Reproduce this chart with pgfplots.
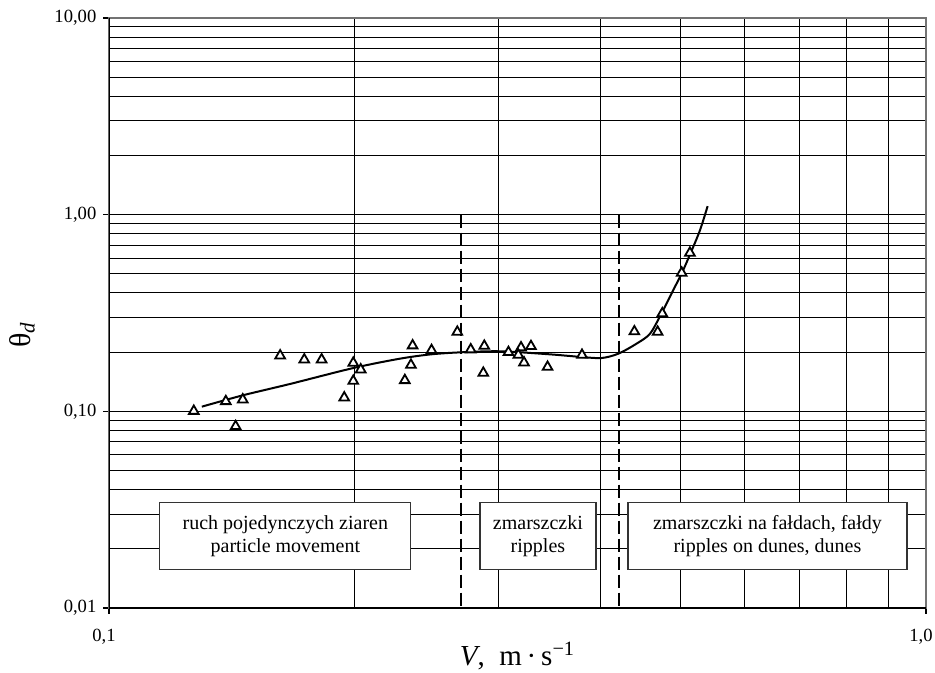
\documentclass[border=0pt]{standalone}
\usepackage{fontspec}
\setmainfont{Liberation Serif}
\usepackage{pgfplots}
\pgfplotsset{compat=1.18}
\begin{document}
\begin{tikzpicture}[x=1pt,y=1pt]
\path[use as bounding box] (0,0) rectangle (467.5,336.5);
\begin{axis}[
  at={(54.5pt,32.5pt)}, anchor=south west,
  scale only axis, width=408.5pt, height=295pt,
  xmode=log, ymode=log,
  xmin=0.1, xmax=1, ymin=0.01, ymax=10,
  xtick={0.1,1}, xticklabels={{0,1},{1,0}},
  ytick={0.01,0.1,1,10}, yticklabels={{0,01},{0,10},{1,00},{10,00}},
  minor xtick={0.2,0.3,0.4,0.5,0.6,0.7,0.8,0.9},
  minor ytick={0.02,0.03,0.04,0.05,0.06,0.07,0.08,0.09,0.2,0.3,0.4,0.5,0.6,0.7,0.8,0.9,2,3,4,5,6,7,8,9},
  grid=both,
  major grid style={black, line width=0.5pt},
  minor grid style={black, line width=0.5pt},
  minor tick length=0pt, major tick length=2.8pt, tick align=outside,
  tick style={black, line width=0.7pt},
  xtick pos=bottom, ytick pos=left,
  axis line style={black!55, line width=1pt},
  xticklabel style={font=\fontsize{9.3}{10}\selectfont, yshift=-4pt, xshift=-2.5pt},
  yticklabel style={font=\fontsize{9.3}{10}\selectfont},
  xlabel={\fontsize{14.5}{16}\selectfont\textit{V},\ \ m\,·\,s\textsuperscript{−1}},
  ylabel={\fontsize{15}{17}\selectfont θ\textsubscript{\textit{d}}},
  xlabel style={at={(rel axis cs:0.5,-0.081)}, anchor=center},
  ylabel style={at={(rel axis cs:-0.1065,0.463)}, anchor=center},
]
% regime boundaries
\addplot[black, line width=1pt, dash pattern=on 6.5pt off 2.5pt] coordinates {(0.27,1) (0.27,0.01)};
\addplot[black, line width=1pt, dash pattern=on 6.5pt off 2.5pt] coordinates {(0.421,1) (0.421,0.01)};
% trend curve
\addplot[black, line width=1pt, smooth] coordinates {
(0.1299,0.1056) (0.1458,0.1206) (0.1665,0.1377) (0.1991,0.166) (0.2271,0.1853)
(0.2482,0.195) (0.2704,0.1997) (0.3011,0.202) (0.346,0.195) (0.3790,0.1889)
(0.4010,0.1867) (0.4204,0.1966) (0.4425,0.2211) (0.4595,0.2484) (0.4744,0.3143)
(0.4904,0.4128) (0.5023,0.5022) (0.5152,0.6391) (0.5289,0.8337) (0.5404,1.105)};
% measurements
\addplot[only marks, mark=triangle*, mark size=2.8pt, mark options={line width=0.9pt, draw=black, fill=white}] coordinates {
(0.1270,0.1003) (0.1390,0.1124) (0.1458,0.1147) (0.1429,0.0839) (0.1620,0.1920)
(0.1734,0.1832) (0.1821,0.1832) (0.1991,0.1762) (0.2033,0.1630) (0.1991,0.1426)
(0.1941,0.1174) (0.2302,0.1438) (0.2342,0.1721) (0.2353,0.2159) (0.2482,0.2044)
(0.2669,0.2533) (0.2772,0.2061) (0.2880,0.2149) (0.2872,0.1567) (0.3083,0.1997)
(0.3194,0.2109) (0.3170,0.1934) (0.3221,0.1769) (0.3285,0.2142) (0.3442,0.1680)
(0.3793,0.1934) (0.4396,0.2545) (0.4694,0.2533) (0.4756,0.3143) (0.5023,0.5057)
(0.5141,0.6391)};
% regime boxes
\node[draw=black!80, fill=white, line width=0.6pt, minimum width=125.5pt, minimum height=33.5pt, align=center, inner sep=0pt, font=\fontsize{10}{11.5}\selectfont] at (axis cs:0.1644,0.02325) {ruch pojedynczych ziaren\\particle movement};
\node[draw=black!80, fill=white, line width=0.6pt, minimum width=58pt, minimum height=33.5pt, align=center, inner sep=0pt, font=\fontsize{10}{11.5}\selectfont] at (axis cs:0.3350,0.02325) {zmarszczki\\ripples};
\node[draw=black!80, fill=white, line width=0.6pt, minimum width=139.5pt, minimum height=33.5pt, align=center, inner sep=0pt, font=\fontsize{10}{11.5}\selectfont] at (axis cs:0.6397,0.02325) {zmarszczki na fałdach, fałdy\\ripples on dunes, dunes};
% dark left and bottom axis lines
\draw[black, line width=1pt] (rel axis cs:0,1) -- (rel axis cs:0,0) -- (rel axis cs:1,0);
\end{axis}
\end{tikzpicture}
\end{document}
